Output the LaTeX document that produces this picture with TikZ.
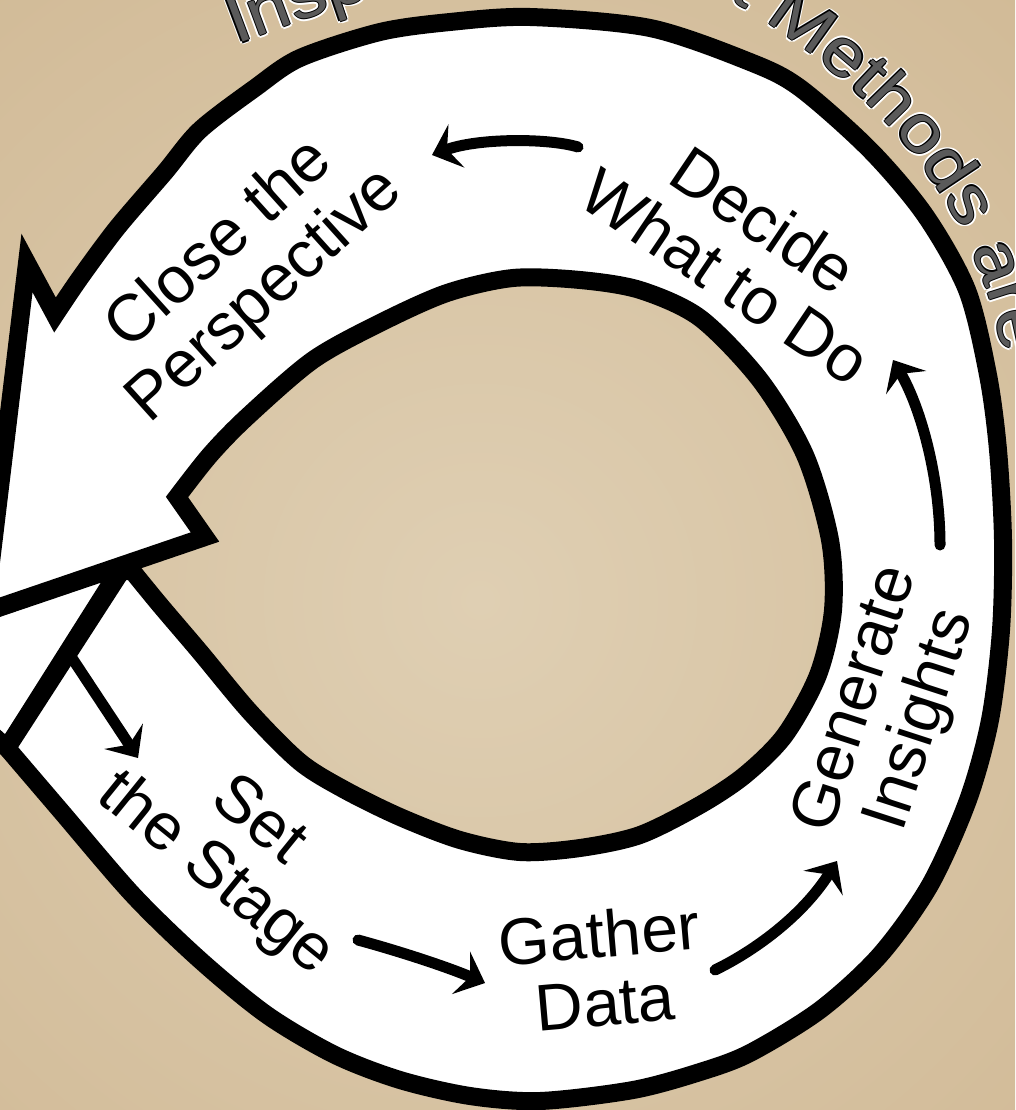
\documentclass[tikz,border=0pt]{standalone}
\usepackage{fontspec}
\setmainfont{Liberation Sans}
\newfontfamily\arcfont[FakeStretch=1.15]{Liberation Sans}
\usetikzlibrary{arrows.meta,decorations.text}
\definecolor{parchlight}{HTML}{DFCFB3}
\definecolor{parchdark}{HTML}{C9AE86}
\definecolor{parchmid}{HTML}{D5C09D}
\definecolor{arcink}{HTML}{5A5A5A}

\begin{document}
\begin{tikzpicture}[x=1pt,y=-1pt,
  band/.style={fill=white, draw=black, line width=18pt, line join=miter, miter limit=12},
  lbl/.style={align=center, inner sep=0pt, font=\fontsize{66}{68}\selectfont},
  flow/.style={line width=11pt, line cap=round, -{Stealth[length=26pt,width=46pt,inset=10pt]}},
  arcword/.style={decorate, decoration={text along path, text color=#1,
      text={|\arcfont\fontsize{66}{66}\selectfont|Inspect {\&} Adapt Methods are}}}]

\useasboundingbox (0,0) rectangle (1015,1110);
\clip (0,0) rectangle (1015,1110);

% parchment background
\fill[parchmid] (0,0) rectangle (1015,1110);
\shade[inner color=parchlight, outer color=parchdark] (480,600) circle (1300);

% the start of the band, tucked under the arrow head
\path[band] (122,566) -- (7,748) -- (-40,706) -- (-40,621) -- cycle;

% the band with its arrow head
\path[band] (122,570)
  -- plot[smooth] coordinates {(7,748) (60,810) (133,895) (200,960) (267,1015)
     (335,1055) (400,1080) (470,1096) (540,1101) (633,1090) (700,1072) (750,1053)
     (820,1010) (880,955) (930,885) (968,800) (990,720) (1001,630) (1003,540)
     (998,450) (988,375) (967,290) (925,215) (870,150) (800,88) (750,62) (650,28)
     (530,17) (450,22) (380,32) (300,58) (255,88) (200,130) (165,172) (117,228)
     (80,278) (55,315)}
  -- (27,263) -- (-15,612) -- (205,537)
  -- plot[smooth] coordinates {(177,497) (210,455) (247,417) (313,360) (380,323)
     (447,293) (513,278) (580,280) (640,290) (700,318) (760,380) (805,455)
     (830,540) (833,610) (818,675) (785,735) (745,775) (700,805) (640,835)
     (580,848) (520,852) (460,840) (400,817) (345,790) (300,762) (250,712)
     (200,652) (160,605) (133,572)}
  -- cycle;

% stage labels
\node[lbl, rotate=42]  (close)    at (243,271) {Close the\\Perspective};
\node[lbl, rotate=-34] (decide)   at (745,248) {Decide\\What to Do};
\node[lbl, rotate=72]  (generate) at (890,710) {Generate\\Insights};
\node[lbl, rotate=-39] (stage)    at (236,849) {Set\\the Stage};
\node[lbl, rotate=5]   (gather)   at (602,968) {Gather\\Data};

% arrow ends between the stages
\coordinate (a1s) at (578,147);  \coordinate (a1e) at (432,155);
\coordinate (a2s) at (940,545);  \coordinate (a2e) at (893,360);
\coordinate (a3s) at (715,970);  \coordinate (a3e) at (837,861);
\coordinate (a4s) at (358,940);  \coordinate (a4e) at (485,983);
\coordinate (a5s) at (70,655);   \coordinate (a5e) at (138,758);

\draw[flow] (a1s) .. controls (548,138) and (478,138) .. (a1e);
\draw[flow] (a2s) .. controls (940,480) and (922,410) .. (a2e);
\draw[flow] (a3s) .. controls (760,948) and (805,912) .. (a3e);
\draw[flow] (a4s) .. controls (395,950) and (445,966) .. (a4e);
\draw[flow] (a5s) -- (a5e);

% title lettering along the outside of the ring: white halo, dark rim, grey core
\foreach \dx/\dy in {2.8/0,-2.8/0,0/2.8,0/-2.8,2/2,-2/2,2/-2,-2/-2}{
  \path[shift={(\dx,\dy)}, arcword=white]
    plot[smooth] coordinates {(236,45) (320,14) (420,-18) (530,-38) (650,-40)
      (772,26) (848,85) (912,152) (962,230) (993,310) (1010,395) (1020,480) (1028,560)};
}
\foreach \dx/\dy in {1.2/0,-1.2/0,0/1.2,0/-1.2}{
  \path[shift={(\dx,\dy)}, arcword=black]
    plot[smooth] coordinates {(236,45) (320,14) (420,-18) (530,-38) (650,-40)
      (772,26) (848,85) (912,152) (962,230) (993,310) (1010,395) (1020,480) (1028,560)};
}
\path[arcword=arcink]
  plot[smooth] coordinates {(236,45) (320,14) (420,-18) (530,-38) (650,-40)
    (772,26) (848,85) (912,152) (962,230) (993,310) (1010,395) (1020,480) (1028,560)};
\end{tikzpicture}
\end{document}
